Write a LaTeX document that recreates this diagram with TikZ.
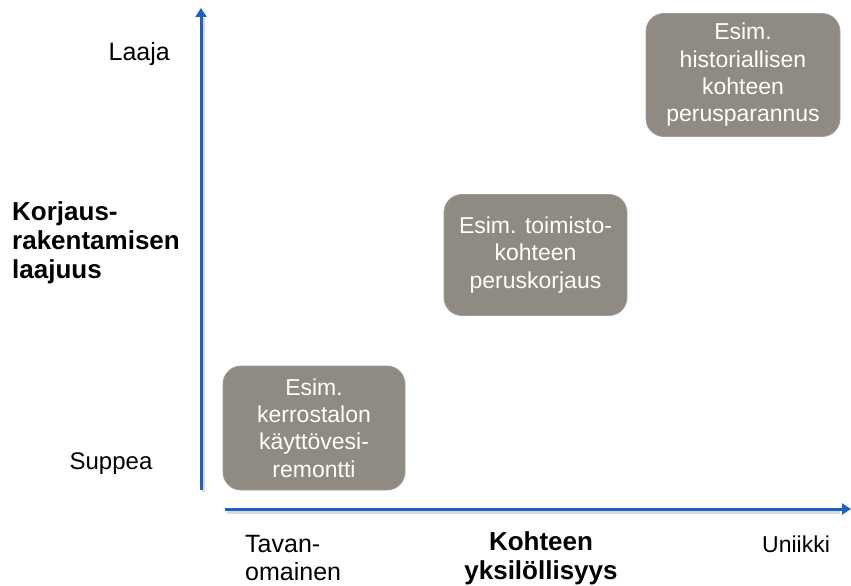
\documentclass[tikz,border=0pt]{standalone}
\usepackage{fontspec}
\setmainfont{Liberation Sans}
\usetikzlibrary{arrows.meta}
\definecolor{axisblue}{RGB}{28,98,196}
\definecolor{boxgray}{RGB}{143,138,130}
\begin{document}
\begin{tikzpicture}[x=1pt,y=-1pt,
  box/.style={fill=boxgray, draw=boxgray!85!white, line width=0.8pt, rounded corners=18pt,
    text=white, align=center, font=\fontsize{23}{27.3}\selectfont, inner sep=0pt},
  axis/.style={draw=axisblue, line width=3pt, -{Triangle[width=11pt,length=9pt]}},
  axshadow/.style={draw=black, opacity=0.15, line width=3pt},
  lbl/.style={font=\fontsize{24}{28}\selectfont, inner sep=0pt, align=left},
  blbl/.style={font=\fontsize{26}{29}\selectfont\bfseries, inner sep=0pt},
]
\useasboundingbox (0,0) rectangle (851,586);

% boxes
\node[box, minimum width=194pt, minimum height=123pt] (b1) at (743,75)
  {Esim.\\historiallisen\\kohteen\\perusparannus};
\node[box, minimum width=183pt, minimum height=121pt] (b2) at (535.5,255)
  {Esim. toimisto-\\kohteen\\peruskorjaus};
\node[box, minimum width=182pt, minimum height=124pt] (b3) at (314,428)
  {Esim.\\kerrostalon\\käyttövesi-\\remontti};

% axes
\coordinate (yo) at (201,490);
\coordinate (yt) at (201,8);
\coordinate (xo) at (225,509);
\coordinate (xt) at (851,509);
\coordinate (yos) at (203,492);
\coordinate (yts) at (203,18);
\coordinate (xos) at (227,512);
\coordinate (xts) at (840,512);
\draw[axshadow] (yos) -- (yts);
\draw[axshadow] (xos) -- (xts);
\draw[axis] (yo) -- (yt);
\draw[axis] (xo) -- (xt);

% labels
\node[lbl, font=\fontsize{25}{28}\selectfont, anchor=base east] (laaja) at (170,60) {Laaja};
\node[lbl, font=\fontsize{24}{28}\selectfont, anchor=base] (suppea) at (111,469) {Suppea};
\node[blbl, anchor=west, align=left] (ylab) at (12,243) {Korjaus-\\rakentamisen\\laajuus};
\node[lbl, font=\fontsize{25}{28}\selectfont, anchor=west, align=left] (tav) at (245,558) {Tavan-\\omainen};
\node[blbl, anchor=center, align=center] (xlab) at (541,558) {Kohteen\\yksilöllisyys};
\node[lbl, font=\fontsize{23}{28}\selectfont, anchor=base] (uni) at (796,552) {Uniikki};
\end{tikzpicture}
\end{document}
